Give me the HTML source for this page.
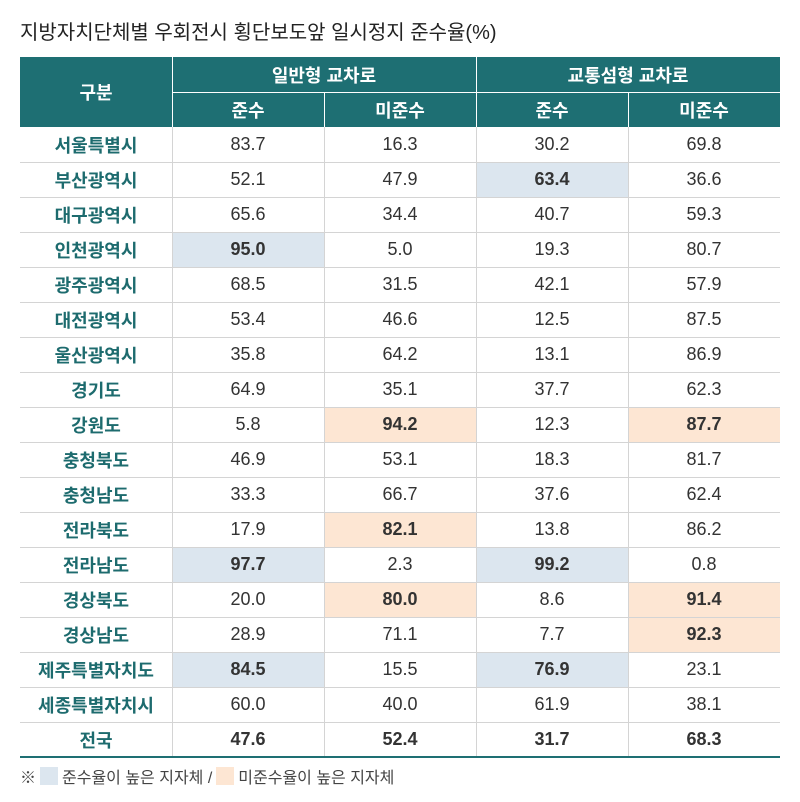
<!DOCTYPE html>
<html><head><meta charset="utf-8"><style>
body{margin:0;width:800px;height:802px;background:#fff;font-family:"Liberation Sans","Noto Sans CJK KR",sans-serif;position:relative;overflow:hidden}
#title{position:absolute;left:20px;top:16px;font-size:20px;color:#222;white-space:nowrap}
.c{position:absolute;display:flex;align-items:center;justify-content:center;box-sizing:border-box;font-size:18px;color:#333}
.h{background:#1e6f73;color:#fff;font-weight:bold;font-size:18px}
.lab{color:#1d6b6e;font-weight:bold}
.hl{position:absolute;height:1px;background:#d4d4d4}
.vl{position:absolute;width:1px;background:#d4d4d4}
#foot{position:absolute;left:20px;top:764px;font-size:16px;color:#444;display:flex;align-items:center;white-space:nowrap}
.sw{display:inline-block;width:18px;height:18px;margin:0 4px}
</style></head><body>
<div id="title">지방자치단체별 우회전시 횡단보도앞 일시정지 준수율(%)</div>
<div id="tbl"></div>
<div id="foot">※ <span class="sw" style="background:#dce6ef"></span>준수율이 높은 지자체 / <span class="sw" style="background:#fde6d3"></span>미준수율이 높은 지자체</div>
<script>
const regions=["서울특별시","부산광역시","대구광역시","인천광역시","광주광역시","대전광역시","울산광역시","경기도","강원도","충청북도","충청남도","전라북도","전라남도","경상북도","경상남도","제주특별자치도","세종특별자치시","전국"];
const genComply=["83.7","52.1","65.6","95.0","68.5","53.4","35.8","64.9","5.8","46.9","33.3","17.9","97.7","20.0","28.9","84.5","60.0","47.6"];
const genNon=["16.3","47.9","34.4","5.0","31.5","46.6","64.2","35.1","94.2","53.1","66.7","82.1","2.3","80.0","71.1","15.5","40.0","52.4"];
const heavyComply=["30.2","63.4","40.7","19.3","42.1","12.5","13.1","37.7","12.3","18.3","37.6","13.8","99.2","8.6","7.7","76.9","61.9","31.7"];
const heavyNon=["69.8","36.6","59.3","80.7","57.9","87.5","86.9","62.3","87.7","81.7","62.4","86.2","0.8","91.4","92.3","23.1","38.1","68.3"];
const hiBlue=[[3,0],[12,0],[15,0],[1,2],[12,2],[15,2]];
const hiOrange=[[8,1],[11,1],[13,1],[8,3],[13,3],[14,3]];
const T=document.getElementById('tbl');
const X0=20,CW=[152,152,152,152,152],Y0=57,HR=35,RH=35;
function cell(x,y,w,h,txt,cls,name){const d=document.createElement('div');d.className='c '+cls;d.style.left=x+'px';d.style.top=y+'px';d.style.width=w+'px';d.style.height=h+'px';d.textContent=txt;


T.appendChild(d);return d;}
function line(cls,x,y,len,name,color){const d=document.createElement('div');d.className=cls;d.style.left=x+'px';d.style.top=y+'px';if(cls==='hl')d.style.width=len+'px';else d.style.height=len+'px';if(color)d.style.background=color;


T.appendChild(d);}
const cx=i=>X0+CW.slice(0,i).reduce((a,b)=>a+b,0);
cell(X0,Y0,CW[0],HR*2,'구분','h','header-category');
cell(cx(1),Y0,CW[1]*2,HR,'일반형 교차로','h','header-general');
cell(cx(3),Y0,CW[3]*2,HR,'교통섬형 교차로','h','header-island');
['준수','미준수','준수','미준수'].forEach((t,i)=>cell(cx(i+1),Y0+HR,CW[i+1],HR,t,'h','subheader-'+(i%2?'noncomply':'comply')));
line('hl',cx(1),Y0+HR,CW[1]*4,'header-divider','#fff');
line('vl',cx(1),Y0,HR*2,'header-vline','#fff');
line('vl',cx(3),Y0,HR*2,'header-vline','#fff');
line('vl',cx(2),Y0+HR,HR,'header-vline','#fff');
line('vl',cx(4),Y0+HR,HR,'header-vline','#fff');
const cols=[genComply,genNon,heavyComply,heavyNon];
const top0=Y0+HR*2;
regions.forEach((r,ri)=>{
  const y=top0+ri*RH;
  cell(X0,y,CW[0],RH,r,'lab','row-label');
  cols.forEach((arr,ci)=>{
    const d=cell(cx(ci+1),y,CW[ci+1],RH,arr[ri],'','value-cell');
    let bold=ri===regions.length-1;
    if(hiBlue.some(p=>p[0]===ri&&p[1]===ci)){d.style.background='#dce6ef';bold=true;}
    if(hiOrange.some(p=>p[0]===ri&&p[1]===ci)){d.style.background='#fde6d3';bold=true;}
    if(bold){d.style.fontWeight='bold';}
  });
  if(ri>0)line('hl',X0,y,760,'row-divider');
});
for(let i=1;i<5;i++)line('vl',cx(i),top0,RH*regions.length,'column-divider');
line('hl',X0,top0+RH*regions.length-1,760,'table-bottom-border','#1e6f73');
T.lastChild.style.height='2px';
</script>
</body></html>
